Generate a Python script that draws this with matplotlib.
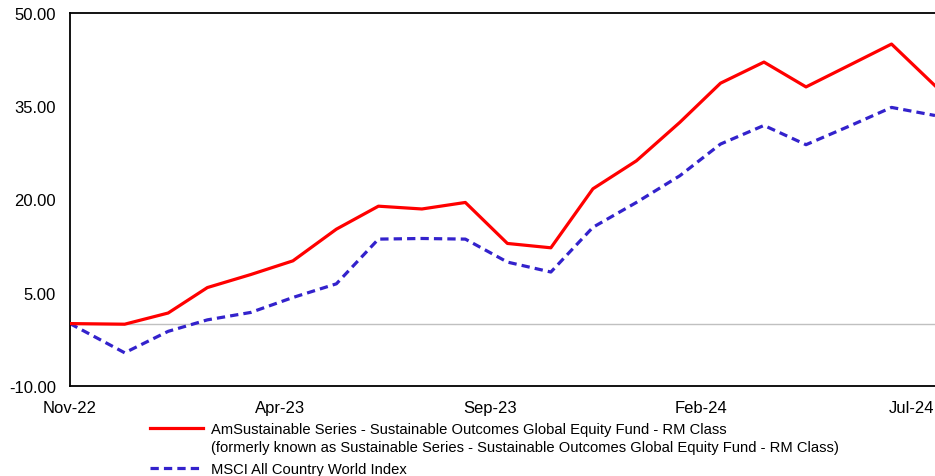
import matplotlib
matplotlib.use("Agg")
import matplotlib.pyplot as plt
import matplotlib.dates as mdates
import pandas as pd

plt.rcParams['font.family'] = ['Liberation Sans', 'DejaVu Sans']

dates = ["2022-11-22", "2022-12-31", "2023-01-31", "2023-02-28", "2023-03-31",
         "2023-04-30", "2023-05-31", "2023-06-30", "2023-07-31", "2023-08-31",
         "2023-09-30", "2023-10-31", "2023-11-30", "2023-12-31", "2024-01-31",
         "2024-02-29", "2024-03-31", "2024-04-30", "2024-05-31", "2024-06-30",
         "2024-07-31"]
fund = [0.0, -0.1, 1.7, 5.8, 7.9, 10.1, 15.2, 18.9, 18.45, 19.5, 12.9, 12.2,
        21.7, 26.2, 32.4, 38.7, 42.1, 38.1, 41.6, 45.0, 38.3]
index = [0.0, -4.7, -1.25, 0.6, 1.8, 4.2, 6.4, 13.6, 13.7, 13.6, 9.9, 8.3,
         15.5, 19.5, 23.8, 28.9, 31.9, 28.8, 31.8, 34.8, 33.5]
tick_dates = ["2022-11-22", "2023-04-21", "2023-09-18", "2024-02-15", "2024-07-14"]
yticks = [-10, 5, 20, 35, 50]

fund_label = "AmSustainable Series - Sustainable Outcomes Global Equity Fund - RM Class"
fund_note = "(formerly known as Sustainable Series - Sustainable Outcomes Global Equity Fund - RM Class)"
index_label = "MSCI All Country World Index"

x = pd.to_datetime(dates)

fig = plt.figure(figsize=(9.35, 4.77), dpi=100)
ax = fig.add_axes([70 / 935, 1 - 386.7 / 477, 1 - 70 / 935, (386.7 - 14) / 477])

ax.axhline(0, color='#c0c0c0', lw=1.0, zorder=1)
ax.plot(x, fund, color='#ff0000', lw=2.3, label=fund_label, zorder=3)
ax.plot(x, index, color='#3322cc', lw=2.3, dashes=(2.6, 1.6), label=index_label, zorder=2)

ax.set_xlim(x[0], x[-1])
ax.set_ylim(-10, 50)
ax.set_yticks(yticks)
ax.set_yticklabels([f"{v:.2f}" for v in yticks])
ax.set_xticks(pd.to_datetime(tick_dates))
ax.xaxis.set_major_formatter(mdates.DateFormatter('%b-%y'))
ax.tick_params(length=0, labelsize=12)
ax.tick_params(axis='y', pad=10)
ax.tick_params(axis='x', pad=10)

ax.spines['right'].set_visible(False)
for s in ['left', 'top', 'bottom']:
    ax.spines[s].set_color('black')
    ax.spines[s].set_linewidth(1.3)

leg = fig.legend(loc='upper left', bbox_to_anchor=(150 / 935, 1 - 423 / 477), frameon=False,
                 fontsize=10.6, handlelength=3.6, handletextpad=0.55, labelspacing=1.75,
                 borderaxespad=0, borderpad=0)

# second line of the fund label, placed under the first legend text
fig.canvas.draw()
bb = leg.get_texts()[0].get_window_extent()
fig.text(bb.x0 / 935, (bb.y0 - 18) / 477, fund_note, fontsize=10.6, ha='left', va='bottom')

fig.savefig("out.png", dpi=100)
